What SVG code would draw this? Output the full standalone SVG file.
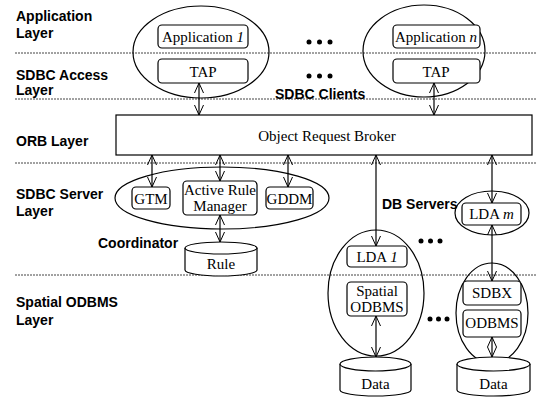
<svg xmlns="http://www.w3.org/2000/svg" width="537" height="397" viewBox="0 0 537 397">
<defs>
<marker id="ah" viewBox="0 0 10 10" refX="10" refY="5" markerWidth="10" markerHeight="10" markerUnits="userSpaceOnUse" orient="auto-start-reverse">
<path d="M0,0.5 L10,5 L0,9.5" fill="none" stroke="#000" stroke-width="1"/>
</marker>
<style>
.lab{font-family:"Liberation Sans",Arial,sans-serif;font-weight:bold;font-size:14px;fill:#000}
.t{font-family:"Liberation Serif","Times New Roman",serif;font-size:15px;fill:#000;text-anchor:middle}
.box{fill:#fff;stroke:#000;stroke-width:1.2}
.ell{fill:none;stroke:#000;stroke-width:1.2}
.dash{stroke:#444;stroke-width:1;stroke-dasharray:2,1}
.con{stroke:#000;stroke-width:1.2;fill:none;marker-start:url(#ah);marker-end:url(#ah)}
.dot{fill:#000}
</style>
</defs>
<rect width="537" height="397" fill="#fff"/>

<g id="layers">
<line class="dash" x1="15" y1="53" x2="537" y2="53"/>
<line class="dash" x1="15" y1="99" x2="537" y2="99"/>
<line class="dash" x1="15" y1="163" x2="537" y2="163"/>
<line class="dash" x1="15" y1="275" x2="537" y2="275"/>
<text class="lab" x="16" y="21">Application</text>
<text class="lab" x="16" y="38">Layer</text>
<text class="lab" x="16" y="80">SDBC Access</text>
<text class="lab" x="16" y="95">Layer</text>
<text class="lab" x="16" y="146">ORB Layer</text>
<text class="lab" x="16" y="199">SDBC Server</text>
<text class="lab" x="16" y="216">Layer</text>
<text class="lab" x="16" y="307">Spatial ODBMS</text>
<text class="lab" x="16" y="325">Layer</text>
<text class="lab" x="275" y="99">SDBC Clients</text>
<text class="lab" x="98" y="248">Coordinator</text>
<text class="lab" x="382" y="209">DB Servers</text>
<circle class="dot" cx="309" cy="42" r="2.5"/><circle class="dot" cx="319.5" cy="42" r="2.5"/><circle class="dot" cx="330" cy="42" r="2.5"/>
<circle class="dot" cx="309" cy="76" r="2.5"/><circle class="dot" cx="319.5" cy="76" r="2.5"/><circle class="dot" cx="330" cy="76" r="2.5"/>
<circle class="dot" cx="421" cy="241" r="2.5"/><circle class="dot" cx="430.5" cy="241" r="2.5"/><circle class="dot" cx="440" cy="241" r="2.5"/>
<circle class="dot" cx="430" cy="319" r="2.5"/><circle class="dot" cx="438.5" cy="319" r="2.5"/><circle class="dot" cx="447" cy="319" r="2.5"/>
</g>

<g id="client1">
<ellipse class="ell" cx="201" cy="52" rx="68" ry="46"/>
<rect class="box" x="158" y="25" width="90" height="23" rx="4"/>
<text class="t" x="203" y="42">Application <tspan font-style="italic">1</tspan></text>
<rect class="box" x="158" y="59" width="90" height="24" rx="4"/>
<text class="t" x="203" y="77">TAP</text>
</g>

<g id="clientn">
<ellipse class="ell" cx="424" cy="51" rx="61" ry="46"/>
<rect class="box" x="393" y="25" width="87" height="23" rx="4"/>
<text class="t" x="436" y="42">Application <tspan font-style="italic">n</tspan></text>
<rect class="box" x="393" y="59" width="87" height="24" rx="4"/>
<text class="t" x="436" y="77">TAP</text>
</g>

<g id="orb">
<rect x="116" y="115" width="416" height="40" fill="#fff" stroke="#000" stroke-width="1.2"/>
<text class="t" x="327" y="141">Object Request Broker</text>
</g>

<g id="coordinator">
<ellipse class="ell" cx="222" cy="198" rx="107" ry="31"/>
<rect class="box" x="132" y="187" width="38" height="22" rx="4"/>
<text class="t" x="151" y="204">GTM</text>
<rect class="box" x="183" y="181" width="74" height="34" rx="4"/>
<text class="t" x="220" y="195">Active Rule</text>
<text class="t" x="220" y="211">Manager</text>
<rect class="box" x="266" y="187" width="47" height="22" rx="4"/>
<text class="t" x="289.5" y="204">GDDM</text>
</g>

<g id="rule">
<path class="box" d="M185,248 L185,270 A36,6 0 0 0 257,270 L257,248"/>
<ellipse class="box" cx="221" cy="248" rx="36" ry="6"/>
<text class="t" x="221" y="269">Rule</text>
</g>

<g id="server1">
<ellipse class="ell" cx="376" cy="293" rx="48" ry="63"/>
<rect class="box" x="347" y="246" width="60" height="21" rx="4"/>
<text class="t" x="377" y="262">LDA <tspan font-style="italic">1</tspan></text>
<rect class="box" x="347" y="282" width="60" height="34" rx="4"/>
<text class="t" x="377" y="296">Spatial</text>
<text class="t" x="377" y="312">ODBMS</text>
</g>

<g id="data1">
<path class="box" d="M340,364 L340,390 A35.5,6 0 0 0 411,390 L411,364"/>
<ellipse class="box" cx="375.5" cy="364" rx="35.5" ry="7"/>
<text class="t" x="375.5" y="389">Data</text>
</g>

<g id="ldam">
<ellipse class="ell" cx="492" cy="213" rx="37" ry="22"/>
<rect class="box" x="462" y="203" width="59" height="22" rx="4"/>
<text class="t" x="491.5" y="219">LDA <tspan font-style="italic">m</tspan></text>
</g>

<g id="serverm">
<ellipse class="ell" cx="492" cy="313" rx="36" ry="50"/>
<rect class="box" x="463" y="281" width="58" height="24" rx="4"/>
<text class="t" x="492" y="298">SDBX</text>
<rect class="box" x="463" y="310" width="58" height="27" rx="4"/>
<text class="t" x="492" y="328">ODBMS</text>
</g>

<g id="data2">
<path class="box" d="M457,364 L457,390 A36.5,6 0 0 0 530,390 L530,364"/>
<ellipse class="box" cx="493.5" cy="364" rx="36.5" ry="7"/>
<text class="t" x="493.5" y="389">Data</text>
</g>

<g id="connectors">
<line class="con" x1="199" y1="83" x2="199" y2="115"/>
<line class="con" x1="434" y1="83" x2="434" y2="115"/>
<line class="con" x1="152" y1="155" x2="152" y2="187"/>
<line class="con" x1="220" y1="155" x2="220" y2="181"/>
<line class="con" x1="288" y1="155" x2="288" y2="187"/>
<line class="con" x1="220" y1="215" x2="220" y2="242"/>
<line class="con" x1="376" y1="155" x2="376" y2="246"/>
<line class="con" x1="492" y1="155" x2="492" y2="203"/>
<line class="con" x1="492" y1="225" x2="492" y2="281"/>
<line class="con" x1="376" y1="316" x2="376" y2="357"/>
<line class="con" x1="492" y1="337" x2="492" y2="357"/>
</g>
</svg>
